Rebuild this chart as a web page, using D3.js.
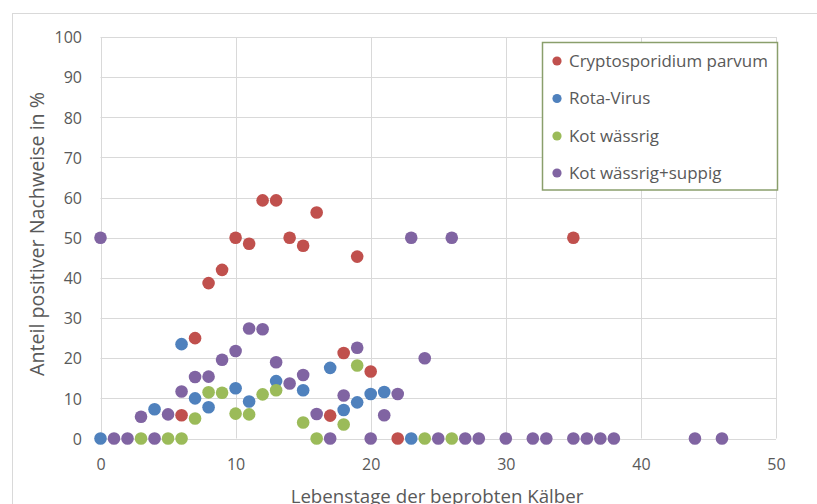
<!DOCTYPE html>
<html>
<head>
<meta charset="utf-8">
<script src="https://cdn.jsdelivr.net/npm/d3@7"></script>
<style>
  html, body { margin: 0; padding: 0; background: #fff; }
  svg { display: block; }
  text { font-family: "Open Sans", "Noto Sans", sans-serif; fill: #595959; }
</style>
</head>
<body>
<div id="chart"></div>
<script>
// ---- Data ----
const seriesNames = ["Cryptosporidium parvum", "Rota-Virus", "Kot wässrig", "Kot wässrig+suppig"];
const seriesColors = ["#C0504D", "#4F81BD", "#9BBB59", "#8064A2"];

// [Lebenstag, Anteil in %]
const cryptosporidium = [
  [6, 5.8], [7, 25], [8, 38.7], [9, 42], [10, 50], [11, 48.5], [12, 59.3], [13, 59.3],
  [14, 50], [15, 48], [16, 56.3], [17, 5.7], [18, 21.3], [19, 45.3], [20, 16.7], [22, 0], [35, 50]
];
const rotaVirus = [
  [0, 0], [4, 7.3], [6, 23.5], [7, 10], [8, 7.8], [10, 12.5], [11, 9.2], [13, 14.3],
  [15, 12], [17, 17.6], [18, 7.1], [19, 9], [20, 11.1], [21, 11.6], [23, 0]
];
const kotWaessrig = [
  [3, 0], [5, 0], [6, 0], [7, 5], [8, 11.5], [9, 11.4], [10, 6.2], [11, 6], [12, 11],
  [13, 12], [15, 4], [16, 0], [18, 3.5], [19, 18.2], [24, 0], [26, 0]
];
const kotWaessrigSuppig = [
  [0, 50], [1, 0], [2, 0], [3, 5.4], [4, 0], [5, 6], [6, 11.7], [7, 15.3], [8, 15.4],
  [9, 19.6], [10, 21.8], [11, 27.4], [12, 27.2], [13, 19], [14, 13.7], [15, 15.8],
  [16, 6.1], [17, 0], [18, 10.7], [19, 22.6], [20, 0], [21, 5.8], [22, 11.1], [23, 50],
  [24, 20], [25, 0], [26, 50], [27, 0], [28, 0], [30, 0], [32, 0], [33, 0], [35, 0],
  [36, 0], [37, 0], [38, 0], [44, 0], [46, 0]
];
const allSeries = [cryptosporidium, rotaVirus, kotWaessrig, kotWaessrigSuppig];

const xTicks = [0, 10, 20, 30, 40, 50];
const yTicks = [0, 10, 20, 30, 40, 50, 60, 70, 80, 90, 100];
const xTitle = "Lebenstage der beprobten Kälber";
const yTitle = "Anteil positiver Nachweise in %";

// ---- Layout ----
const W = 817, H = 504;
const plot = { left: 100.5, right: 776, top: 37, bottom: 438.5 };

const svg = d3.select("#chart").append("svg").attr("width", W).attr("height", H);

// scale a text's font size so that it spans a given width
function fitWidth(sel, target) {
  sel.style("font-size", "16px");
  const w = sel.node().getComputedTextLength();
  sel.style("font-size", (16 * target / w).toFixed(2) + "px");
}

// outer chart border (right/bottom edges fall outside the picture)
svg.append("rect")
  .attr("x", 12.5).attr("y", 13.5).attr("width", 830).attr("height", 520)
  .attr("fill", "none").attr("stroke", "#d9d9d9").attr("stroke-width", 1);

const x = d3.scaleLinear().domain([0, 50]).range([plot.left, plot.right]);
const y = d3.scaleLinear().domain([0, 100]).range([plot.bottom, plot.top]);

// gridlines
const grid = svg.append("g");
grid.selectAll("line.h").data(yTicks).join("line")
  .attr("x1", plot.left).attr("x2", plot.right)
  .attr("y1", d => Math.round(y(d)) + 0.5).attr("y2", d => Math.round(y(d)) + 0.5)
  .attr("stroke", "#d9d9d9").attr("stroke-width", 1);
grid.selectAll("line.v").data(xTicks).join("line")
  .attr("y1", plot.top).attr("y2", plot.bottom)
  .attr("x1", d => Math.round(x(d)) + 0.5).attr("x2", d => Math.round(x(d)) + 0.5)
  .attr("stroke", "#d9d9d9").attr("stroke-width", 1);

// axes (labels only)
const yAxis = d3.axisLeft(y).tickValues(yTicks).tickSize(0).tickPadding(0);
const gy = svg.append("g").attr("transform", `translate(${plot.left - 18.5},0)`).call(yAxis);
gy.select(".domain").remove();
gy.selectAll("text").style("font-size", "16px").attr("fill", "#595959").attr("dy", "0.36em");

const xAxis = d3.axisBottom(x).tickValues(xTicks).tickSize(0).tickPadding(0);
const gx = svg.append("g").attr("transform", `translate(0,${plot.bottom + 19})`).call(xAxis);
gx.select(".domain").remove();
gx.selectAll("text").style("font-size", "16px").attr("fill", "#595959").attr("dy", "0.75em");

// axis titles
const yt = svg.append("text")
  .attr("transform", `translate(44,234) rotate(-90)`)
  .attr("text-anchor", "middle")
  .text(yTitle);
fitWidth(yt, 284);
const xt = svg.append("text")
  .attr("x", 437).attr("y", 502.5)
  .attr("text-anchor", "middle")
  .text(xTitle);
fitWidth(xt, 293);

// points
allSeries.forEach((data, i) => {
  svg.append("g").selectAll("circle").data(data).join("circle")
    .attr("cx", d => x(d[0])).attr("cy", d => y(d[1]))
    .attr("r", 6.3)
    .attr("fill", seriesColors[i]);
});

// legend
const lg = svg.append("g");
lg.append("rect")
  .attr("x", 542.5).attr("y", 42.5).attr("width", 235).attr("height", 147.5)
  .attr("fill", "#fff").attr("stroke", "#8A9F6C").attr("stroke-width", 1.5);
const rowY = [61, 98.5, 136, 173];
const legendTexts = [];
seriesNames.forEach((name, i) => {
  lg.append("circle").attr("cx", 557).attr("cy", rowY[i]).attr("r", 4.6).attr("fill", seriesColors[i]);
  legendTexts.push(lg.append("text").attr("x", 569).attr("y", rowY[i]).attr("dy", "0.35em").text(name));
});
fitWidth(legendTexts[0], 199);
const legendSize = legendTexts[0].style("font-size");
legendTexts.forEach(t => t.style("font-size", legendSize));
</script>
</body>
</html>
